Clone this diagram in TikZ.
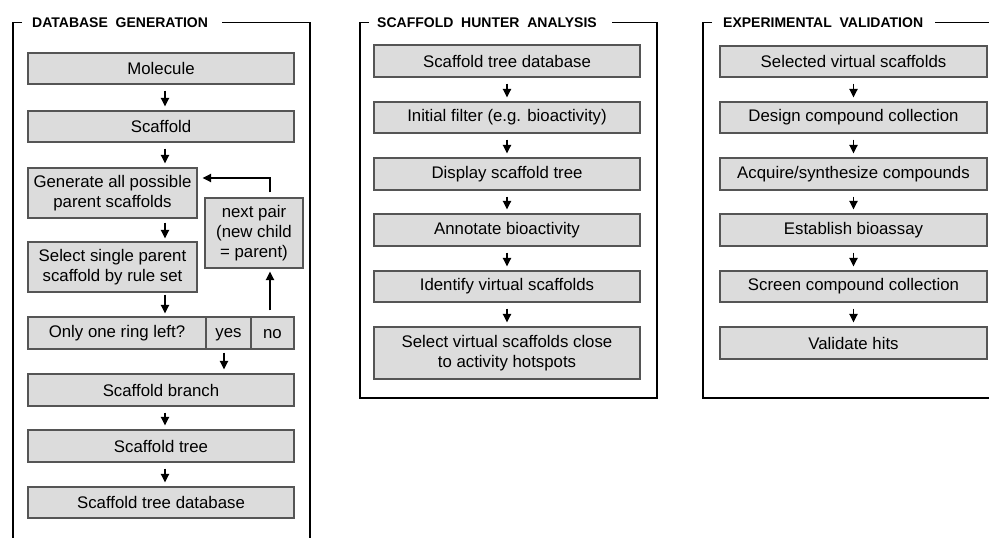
\documentclass[tikz,border=0pt]{standalone}
\usepackage{fontspec}
\setmainfont{Liberation Sans}
\usetikzlibrary{arrows.meta,calc}
\definecolor{boxfill}{HTML}{DCDCDC}
\definecolor{boxline}{HTML}{555555}
\tikzset{
  stepbox/.style={draw=boxline,line width=1.1pt,fill=boxfill,inner sep=0pt,align=center,
    font=\fontsize{16.8}{20}\selectfont},
  framel/.style={line width=1.8pt,black},
  ptitle/.style={anchor=west,inner sep=0pt,font=\fontsize{14}{16}\selectfont\bfseries},
  arr/.style={line width=1.9pt,-{Triangle[length=8.5pt,width=8pt]}},
}
\newcommand{\bx}[6]{% name, x1, x2, y1, y2, text
  \node[stepbox,minimum width={#3-#2},minimum height={#5-#4}] (#1) at ({(#2+#3)/2},{(#4+#5)/2}) {\vphantom{A}#6};}
\begin{document}
\begin{tikzpicture}[x=1pt,y=-1pt]
\useasboundingbox (0,0) rectangle (989,538);
% ---------- frames ----------
\node[ptitle] (t1) at (32,22.5) {DATABASE\ \ GENERATION};
\draw[framel] (22,22.5) -- (13,22.5) -- (13,545);
\draw[framel] (222,22.5) -- (310,22.5) -- (310,545);
\node[ptitle] (t2) at (377,22.5) {SCAFFOLD\ \ HUNTER\ \ ANALYSIS};
\draw[framel] (369,22.5) -- (360,22.5) -- (360,398) -- (657,398) -- (657,22.5) -- (612,22.5);
\node[ptitle] (t3) at (723,22.5) {EXPERIMENTAL\ \ VALIDATION};
\draw[framel] (712,22.5) -- (703,22.5) -- (703,398) -- (995,398);
\draw[framel] (935,22.5) -- (995,22.5);
% ---------- left panel ----------
\bx{mol}{28}{294}{53}{84}{Molecule}
\bx{sca}{28}{294}{111}{142}{Scaffold}
\bx{gen}{28}{197}{168}{218}{Generate all possible\\parent scaffolds}
\bx{nxt}{205}{303}{198}{268}{next pair\\(new child\\= parent)}
\bx{sel}{28}{197}{242}{292}{Select single parent\\scaffold by rule set}
\bx{ring}{28}{206}{317}{349}{Only one ring left?}
\bx{yes}{206}{251}{317}{349}{yes}
\bx{no}{251}{294}{317}{349}{no}
\bx{br}{28}{294}{374}{406}{Scaffold branch}
\bx{tr}{28}{294}{430}{462}{Scaffold tree}
\bx{db}{28}{294}{487}{518}{Scaffold tree database}
\coordinate (ax) at (165,0);
\draw[arr,shorten <=6pt,shorten >=4pt] (mol.south -| ax) -- (sca.north -| ax);
\draw[arr,shorten <=6pt,shorten >=4pt] (sca.south -| ax) -- (gen.north -| ax);
\draw[arr,shorten <=4pt,shorten >=3pt] (gen.south -| ax) -- (sel.north -| ax);
\draw[arr,shorten <=2pt,shorten >=3pt] (sel.south -| ax) -- (ring.north -| ax);
\coordinate (yx) at (224,0);
\draw[arr,shorten <=3pt,shorten >=4pt] (yes.south -| yx) -- (br.north -| yx);
\draw[arr,shorten <=6pt,shorten >=4pt] (br.south -| ax) -- (tr.north -| ax);
\draw[arr,shorten <=6pt,shorten >=4pt] (tr.south -| ax) -- (db.north -| ax);
\coordinate (nx) at (270,0);
\draw[arr,shorten <=6pt,shorten >=3pt] (no.north -| nx) -- (nxt.south -| nx);
\coordinate (lp) at (270,178);
\draw[arr,shorten <=5pt,shorten >=5pt] (nxt.north -| nx) -- (lp) -- (gen.east |- lp);
% ---------- middle panel ----------
\bx{m1}{374}{640}{45}{77}{Scaffold tree database}
\bx{m2}{374}{640}{102}{133}{Initial filter (e.g. bioactivity)}
\bx{m3}{374}{640}{158}{190}{Display scaffold tree}
\bx{m4}{374}{640}{214}{246}{Annotate bioactivity}
\bx{m5}{374}{640}{271}{302}{Identify virtual scaffolds}
\bx{m6}{374}{640}{327}{379}{Select virtual scaffolds close\\to activity hotspots}
\foreach \a/\b in {m1/m2,m2/m3,m3/m4,m4/m5,m5/m6}
  \draw[arr,shorten <=6pt,shorten >=4pt] (\a) -- (\b);
% ---------- right panel ----------
\bx{r1}{720}{987}{46}{77}{Selected virtual scaffolds}
\bx{r2}{720}{987}{102}{133}{Design compound collection}
\bx{r3}{720}{987}{158}{190}{Acquire/synthesize compounds}
\bx{r4}{720}{987}{214}{246}{Establish bioassay}
\bx{r5}{720}{987}{271}{302}{Screen compound collection}
\bx{r6}{720}{987}{327}{359}{Validate hits}
\foreach \a/\b in {r1/r2,r2/r3,r3/r4,r4/r5,r5/r6}
  \draw[arr,shorten <=6pt,shorten >=4pt] (\a) -- (\b);
\end{tikzpicture}
\end{document}
